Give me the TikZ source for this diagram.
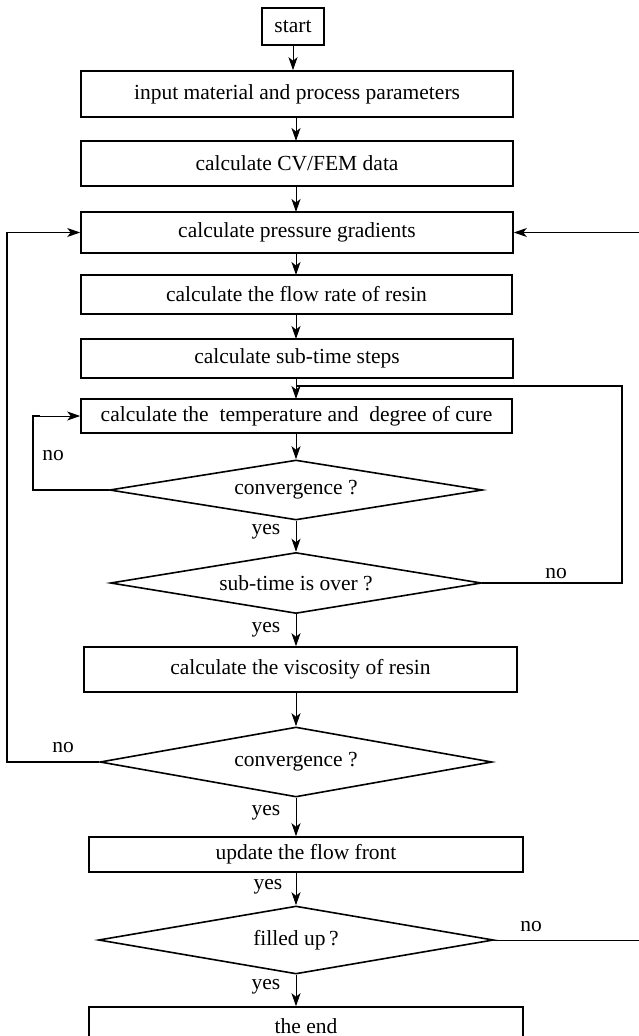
\documentclass[tikz,border=0pt]{standalone}
\usepackage{fontspec}
\setmainfont{Liberation Serif}
\usetikzlibrary{shapes.geometric,arrows.meta}

\tikzset{
  procbox/.style={draw, line width=1.6pt, rectangle, inner sep=0pt, font=\fontsize{21.5}{25}\selectfont},
  decision/.style={draw, line width=1.6pt, diamond, aspect=6, inner sep=0pt, font=\fontsize{21.5}{25}\selectfont},
  flowarrow/.style={line width=1pt, -{Stealth[length=13pt, width=9pt, inset=3.5pt]}},
  backline/.style={line width=1.6pt},
  answer/.style={font=\fontsize{21.5}{25}\selectfont}
}

\begin{document}
\begin{tikzpicture}[x=1pt, y=-1pt]
    \useasboundingbox (0, 0) rectangle (638, 1036);
        % process boxes
        \node[procbox, minimum width=62, minimum height=37] (start) at (293, 26.5) {start};
        \node[procbox, minimum width=432, minimum height=46] (input) at (297, 94) {input material and process parameters};
        \node[procbox, minimum width=432, minimum height=45] (cvfem) at (297, 163.5) {calculate CV/FEM data};
        \node[procbox, minimum width=432, minimum height=41] (pressure) at (297, 232.5) {calculate pressure gradients};
        \node[procbox, minimum width=431, minimum height=39] (flowrate) at (296.5, 294.5) {calculate the flow rate of resin};
        \node[procbox, minimum width=432, minimum height=39] (substeps) at (297, 358.5) {calculate sub-time steps};
        \node[procbox, minimum width=431, minimum height=34] (tempcure) at (296.5, 416) {calculate the~ temperature and~ degree of cure};
        \node[decision, minimum width=373, minimum height=60] (convA) at (296, 490) {convergence ?};
        \node[decision, minimum width=371, minimum height=61] (subover) at (296, 583) {sub-time is over ?};
        \node[procbox, minimum width=433, minimum height=45] (viscosity) at (300.5, 669.5) {calculate the viscosity of resin};
        \node[decision, minimum width=392, minimum height=70] (convB) at (296, 762) {convergence ?};
        \node[procbox, minimum width=434, minimum height=35] (front) at (306, 854.5) {update the flow front};
        \node[decision, minimum width=395, minimum height=68] (filled) at (296, 940) {filled up\,?};
        \node[procbox, minimum width=434, minimum height=38] (theend) at (306, 1026) {the end};
        \coordinate (join) at (296, 386);

        % main path
        \draw[flowarrow] (start.south) -- (start.south |- input.north);
        \draw[flowarrow] (296, 117) -- (296, 141);
        \draw[flowarrow] (296, 186) -- (296, 212);
        \draw[flowarrow] (296, 253) -- (296, 275);
        \draw[flowarrow] (296, 314) -- (296, 339);
        \draw[flowarrow] (296, 378) -- (296, 399);
        \draw[flowarrow] (tempcure.south -| convA.north) -- (convA.north);
        \draw[flowarrow] (convA.south) -- (subover.north);
        \draw[flowarrow] (subover.south) -- (subover.south |- viscosity.north);
        \draw[flowarrow] (convA.south |- viscosity.south) -- (convB.north);
        \draw[flowarrow] (convB.south) -- (convB.south |- front.north);
        \draw[flowarrow] (convB.south |- front.south) -- (filled.north);
        \draw[flowarrow] (filled.south) -- (filled.south |- theend.north);

        % loops back
        \draw[backline] (convA.west) -- (33, 490) |- (40, 416);
        \draw[flowarrow] (40, 416) -- (tempcure.west);
        \draw[backline] (subover.east) -- (622, 583) |- (join);
        \draw[backline] (convB.west) -- (7, 762) |- (40, 232.5);
        \draw[flowarrow] (40, 232.5) -- (pressure.west);
        \draw[flowarrow] (filled.east) -- (639.5, 940) |- (pressure.east);

        % yes / no
        \node[answer] (yesA) at (266, 532) {yes};
        \node[answer] (yesB) at (266, 630) {yes};
        \node[answer] (yesC) at (266, 813) {yes};
        \node[answer] (yesD) at (268, 887) {yes};
        \node[answer] (yesE) at (266, 987) {yes};
        \node[answer] (noA) at (53, 456) {no};
        \node[answer] (noB) at (556, 574) {no};
        \node[answer] (noC) at (63, 748) {no};
        \node[answer] (noD) at (531, 927) {no};
    \end{tikzpicture}
\end{document}
